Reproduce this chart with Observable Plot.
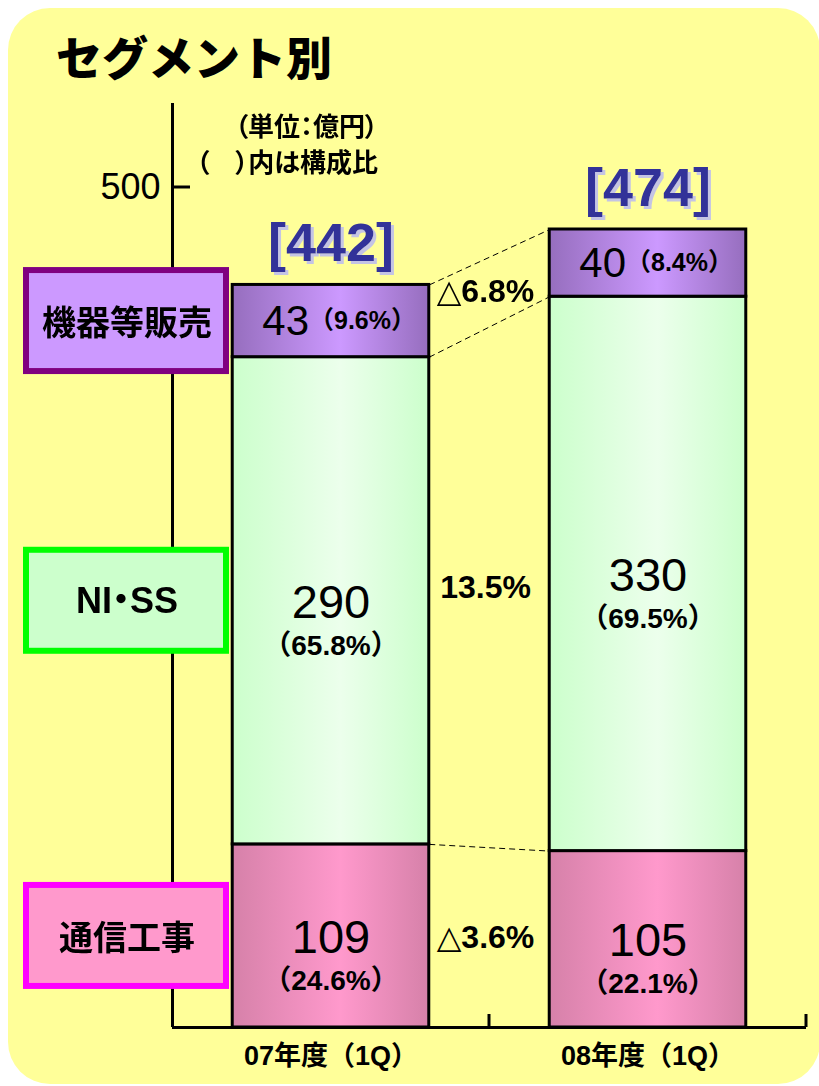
<!DOCTYPE html>
<html>
<head>
<meta charset="utf-8">
<script src="https://cdn.jsdelivr.net/npm/d3@7"></script>
<script src="https://cdn.jsdelivr.net/npm/@observablehq/plot@0.6"></script>
<style>
html, body { margin: 0; padding: 0; background: #ffffff; }
#wrap { position: relative; width: 819px; height: 1086px; overflow: hidden; }
#bg { position: absolute; left: 8px; top: 8px; width: 812px; height: 1076px; background: #ffff99; border-radius: 42px; }
#title { position: absolute; left: 56px; top: 31px; height: 48px; line-height: 48px; font-family: 'Noto Sans CJK JP', sans-serif; font-weight: 900; font-size: 46px; color: #000; white-space: nowrap; }
#chart { position: absolute; left: 0; top: 95px; }
g[aria-description="total"] { filter: url(#tshadow); }
</style>
</head>
<body>
<div id="wrap">
  <div id="bg"></div>
  <div id="title">セグメント別</div>
  <div id="chart"></div>
</div>
<script>
// ---- data ----
const categories = ["07年度（1Q）", "08年度（1Q）"];
const segmentNames = ["通信工事", "NI・SS", "機器等販売"];
const tsushinValues = [109, 105];
const nissValues = [290, 330];
const kikiValues = [43, 40];
const tsushinShares = ["24.6%", "22.1%"];
const nissShares = ["65.8%", "69.5%"];
const kikiShares = ["9.6%", "8.4%"];
const totals = [442, 474];
const growthLabels = ["△3.6%", "13.5%", "△6.8%"];
const yTickValues = [500];
const unitLines = ["（単位：億円）", "（　）内は構成比"];

// ---- styling config ----
const NUM = "'Liberation Sans', sans-serif";
const NUMCJK = "'Liberation Sans', 'Noto Sans CJK JP', sans-serif";
const GROWTHFONT = "'Liberation Sans', 'DejaVu Sans', 'Noto Sans CJK JP', sans-serif";
const CJK = "'Noto Sans CJK JP', sans-serif";
const segStyle = [
  {grad: "gPink", edge: "#d681a9", mid: "#ff99cc", boxFill: "#ff99cc", boxStroke: "#ff00ff"},
  {grad: "gGreen", edge: "#ccffcc", mid: "#ecffec", boxFill: "#ccffcc", boxStroke: "#00ff00"},
  {grad: "gPurple", edge: "#966ebe", mid: "#cc99ff", boxFill: "#cc99ff", boxStroke: "#800080"}
];
const pad = 0.19;

// ---- derived table ----
const seriesValues = [tsushinValues, nissValues, kikiValues];
const seriesShares = [tsushinShares, nissShares, kikiShares];
const rows = [];
categories.forEach((c, i) => {
  let base = 0;
  segmentNames.forEach((s, k) => {
    const v = seriesValues[k][i];
    rows.push({cat: c, i, seg: s, k, value: v, share: seriesShares[k][i], y1: base, y2: base + v, mid: base + v / 2});
    base += v;
  });
});
const rowOf = (i, k) => rows.find(r => r.i === i && r.k === k);
const connectors = segmentNames.map((s, k) => ({k, ya: rowOf(0, k).y2, yb: rowOf(1, k).y2}));
const growth = segmentNames.map((s, k) => ({k, label: growthLabels[k], y: (rowOf(0, k).mid + rowOf(1, k).mid) / 2}));
const totalRows = categories.map((c, i) => ({i, total: totals[i], top: rowOf(i, 2).y2}));
const catRows = categories.map((c, i) => ({i, cat: c}));

function gradients() {
  const defs = d3.create("svg:defs");
  segStyle.forEach(st => {
    const lg = defs.append("linearGradient").attr("id", st.grad)
      .attr("x1", 0).attr("x2", 1).attr("y1", 0).attr("y2", 0);
    lg.append("stop").attr("offset", "0%").attr("stop-color", st.edge);
    lg.append("stop").attr("offset", "55%").attr("stop-color", st.mid);
    lg.append("stop").attr("offset", "100%").attr("stop-color", st.edge);
  });
  const f = defs.append("filter").attr("id", "tshadow")
    .attr("x", "-10%").attr("y", "-10%").attr("width", "130%").attr("height", "130%");
  f.append("feDropShadow").attr("dx", 3).attr("dy", 3).attr("stdDeviation", 0.6)
    .attr("flood-color", "#c4c4e4").attr("flood-opacity", 1);
  return defs.node();
}

function overlay(index, scales) {
  const {x, y} = scales;
  const g = d3.create("svg:g");
  // x-axis tick stubs at band boundaries
  [1, 2].forEach(b => {
    g.append("line").attr("x1", x(b)).attr("x2", x(b)).attr("y1", y(0)).attr("y2", y(0) - 13)
      .attr("stroke", "#000").attr("stroke-width", 3);
  });
  // y tick stubs (inward)
  yTickValues.forEach(t => {
    g.append("line").attr("x1", x(0)).attr("x2", x(0) + 18).attr("y1", y(t)).attr("y2", y(t))
      .attr("stroke", "#000").attr("stroke-width", 3);
  });
  // left legend boxes, centred on the first bar's segments
  segmentNames.forEach((s, k) => {
    const cy = y(rowOf(0, k).mid);
    const st = segStyle[k];
    g.append("rect").attr("x", 26).attr("y", cy - 50.5).attr("width", 200).attr("height", 101)
      .attr("fill", st.boxFill).attr("stroke", st.boxStroke).attr("stroke-width", 6);
    const isLatin = /^[A-Za-z]/.test(s);
    g.append("text").attr("x", 127).attr("y", cy).attr("text-anchor", "middle")
      .attr("dominant-baseline", "central")
      .attr("font-family", isLatin ? "'Liberation Sans', 'Noto Sans CJK JP', sans-serif" : CJK)
      .attr("font-weight", "bold").attr("font-size", isLatin ? 36 : 34)
      .style("font-feature-settings", "'palt'")
      .attr("fill", "#000").text(s);
  });
  // unit notes
  unitLines.forEach((t, j) => {
    g.append("text").attr("x", x(0) + 206).attr("y", y(550) + 21 + j * 36)
      .attr("text-anchor", "end").attr("dominant-baseline", "central")
      .attr("font-family", CJK).attr("font-weight", "bold").attr("font-size", 26)
      .style("font-feature-settings", "'palt'")
      .attr("fill", "#000").text(t);
  });
  return g.node();
}

const segMarks = segmentNames.map((s, k) =>
  Plot.rect(rows.filter(r => r.k === k), {
    x1: d => d.i + pad, x2: d => d.i + 1 - pad, y1: "y1", y2: "y2",
    fill: `url(#${segStyle[k].grad})`, stroke: "#000", strokeWidth: 3
  })
);

const lowerRows = rows.filter(r => r.k < 2);
const topRows = rows.filter(r => r.k === 2);

const chart = Plot.plot({
  width: 819,
  height: 991,
  marginTop: 8,
  marginBottom: 59,
  marginLeft: 172,
  marginRight: 13,
  x: {domain: [0, 2], axis: null},
  y: {domain: [0, 550], axis: null},
  style: {background: "transparent", overflow: "visible"},
  marks: [
    gradients,
    Plot.ruleX([0], {stroke: "#000", strokeWidth: 3}),
    Plot.ruleY([0], {stroke: "#000", strokeWidth: 3}),
    ...segMarks,
    Plot.link(connectors, {
      x1: 1 - pad, x2: 1 + pad, y1: "ya", y2: "yb",
      stroke: "#000", strokeWidth: 1, strokeDasharray: "6,4"
    }),
    // big numbers (lower segments)
    Plot.text(lowerRows, {
      x: d => d.i + 0.5, y: "mid", dy: 2, text: d => String(d.value),
      fontFamily: NUM, fontSize: 47, fill: "#000"
    }),
    Plot.text(lowerRows, {
      x: d => d.i + 0.5, y: "mid", dy: 45, text: d => `（${d.share}）`,
      fontFamily: NUMCJK, fontSize: 28, fontWeight: "bold", fill: "#000"
    }),
    // top segment: number + share on one line
    Plot.text(topRows, {
      x: d => d.i + 0.5, y: "mid", dx: -22, text: d => String(d.value), textAnchor: "end",
      fontFamily: NUM, fontSize: 42, fill: "#000"
    }),
    Plot.text(topRows, {
      x: d => d.i + 0.5, y: "mid", dx: -22, text: d => `（${d.share}）`, textAnchor: "start",
      fontFamily: NUMCJK, fontSize: 25, fontWeight: "bold", fill: "#000"
    }),
    // totals (shadow via filter)
    Plot.text(totalRows, {
      x: d => d.i + 0.5, y: "top", dy: -41, text: d => `[${d.total}]`,
      fontFamily: NUM, fontSize: 54, fontWeight: "bold", fill: "#333399", ariaDescription: "total"
    }),
    // growth rates between bars
    Plot.text(growth, {
      x: 1, y: "y", dx: -4, text: "label",
      fontFamily: GROWTHFONT, fontSize: 32, fontWeight: "bold", fill: "#000"
    }),
    // y tick label
    Plot.text(yTickValues, {
      x: 0, y: d => d, dx: -12, text: d => String(d), textAnchor: "end",
      fontFamily: "'Liberation Sans', sans-serif", fontSize: 36, fill: "#000"
    }),
    // category labels
    Plot.text(catRows, {
      x: d => d.i + 0.5, y: 0, dy: 29, text: "cat",
      fontFamily: "'Liberation Sans', 'Noto Sans CJK JP', sans-serif", fontSize: 27, fontWeight: "bold", fill: "#000"
    }),
    overlay
  ]
});
document.getElementById("chart").appendChild(chart);
</script>
</body>
</html>
